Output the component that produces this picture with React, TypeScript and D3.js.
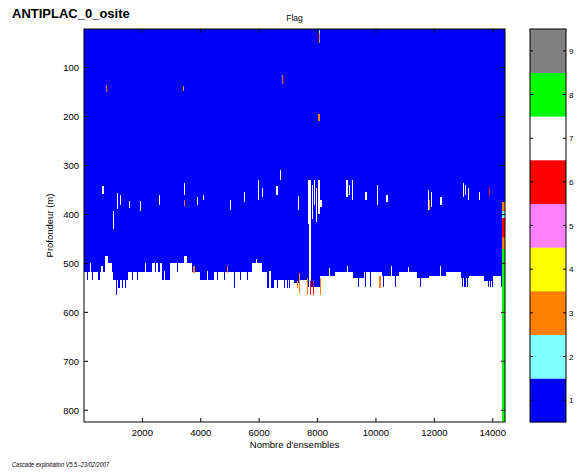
import React from "react";
import * as d3 from "d3";

// ---- data ----
const xDomain: [number, number] = [1, 14420];
const yDomain: [number, number] = [21, 824];
const xTickValues = [2000, 4000, 6000, 8000, 10000, 12000, 14000];
const yTickValues = [100, 200, 300, 400, 500, 600, 700, 800];
const flagLabels = ["1", "2", "3", "4", "5", "6", "7", "8", "9"];
const flagColors = ["#0000ff", "#80ffff", "#ff8000", "#ffff00", "#ff80ff", "#ff0000", "#ffffff", "#00ff00", "#808080"];

// bottom of the flag-1 (good data) block: [start ensemble, bottom depth]
const bottomProfile: [number, number][] = [
  [1, 518], [720, 484], [835, 500], [950, 518], [1000, 533], [1520, 518],
  [2320, 500], [2665, 533], [2950, 500], [3410, 484], [3520, 500], [3750, 518],
  [3980, 533], [4440, 518], [5750, 500], [6100, 518], [6270, 550], [6500, 533],
  [7180, 540], [7400, 533], [7650, 548], [8100, 525], [8600, 518], [9200, 530],
  [9600, 518], [10200, 525], [10800, 518], [11400, 530], [11800, 525], [12400, 518],
  [12900, 530], [13200, 525], [13700, 535], [14000, 525], [14330, 374],
];
const profileEnd = 14420;

// thin columns of good data reaching deeper: [ensemble, depth]
const deepSpikes: [number, number][] = [
  [91, 533], [263, 533], [492, 533], [1086, 564], [1178, 550], [1292, 550], [1406, 550],
  [1635, 533], [1806, 533], [2435, 518], [2550, 518], [3180, 518], [3700, 518],
  [4550, 533], [4780, 533], [5123, 550], [5350, 533], [5580, 533], [6610, 550],
  [6840, 550], [6940, 550], [7010, 550], [9390, 548], [9620, 548], [9800, 548],
  [10250, 548], [10650, 548], [11510, 548], [12950, 548], [13000, 548], [13060, 548],
  [13120, 548], [13840, 548], [13900, 548], [13980, 548], [14300, 548],
];

// thin columns ending shallower: [ensemble, depth]
const shallowNotches: [number, number][] = [
  [200, 500], [600, 505], [2100, 500], [2750, 515], [4200, 515], [5900, 490],
  [6350, 515], [8400, 510], [9000, 505], [10500, 505], [11100, 508], [12200, 505],
];

// missing (blank) cells: [ensemble, top depth, bottom depth]
const blankCells: [number, number, number][] = [
  [628, 341, 358], [1000, 392, 430], [1140, 356, 388], [1220, 360, 380], [1545, 372, 387],
  [1920, 372, 392], [2570, 360, 380], [3430, 335, 360], [3880, 365, 380], [4080, 360, 370],
  [5010, 370, 390], [5490, 355, 375], [5970, 330, 370], [6100, 345, 365], [6590, 342, 360],
  [6720, 309, 330], [7340, 362, 390], [7680, 330, 420], [7720, 330, 555], [7800, 340, 410],
  [7880, 330, 380], [7950, 345, 415], [8030, 330, 400], [8100, 370, 385], [8990, 330, 365],
  [9080, 340, 360], [9190, 330, 370], [9640, 355, 370], [10020, 340, 380], [10360, 360, 375],
  [11770, 350, 390], [11870, 355, 385], [12210, 365, 380], [12970, 335, 365], [13060, 340, 360],
  [13140, 345, 370], [13520, 355, 370],
];

// flagged cells: [ensemble, top depth, bottom depth, flag]
const flaggedCells: [number, number, number, number][] = [
  [755, 135, 150, 3], [3400, 138, 148, 3], [6790, 115, 133, 3], [8030, 195, 208, 3],
  [8050, 23, 30, 2], [8050, 30, 50, 3], [13860, 343, 360, 6], [3420, 370, 382, 3],
  [11800, 370, 390, 3], [7350, 520, 560, 3], [7640, 530, 565, 3], [7750, 535, 565, 6],
  [7850, 535, 565, 6], [8070, 530, 565, 3], [10120, 525, 550, 3], [3750, 505, 520, 3],
  [4890, 505, 520, 3], [7280, 535, 550, 3],
];

// last ensembles: [start ensemble, top depth, bottom depth, flag]
const lastColumn: [number, number, number, number][] = [
  [14330, 374, 392, 3], [14330, 392, 408, 2], [14330, 408, 445, 6],
  [14330, 445, 470, 3], [14330, 470, 824, 8],
];

// ---- layout ----
const W = 576;
const H = 472;
const plot = { left: 84, right: 505, top: 29, bottom: 422 };
const bar = { left: 530, right: 566, top: 29, bottom: 422 };
const font = "'Liberation Sans', Arial, Helvetica, sans-serif";
const cellW = 40; // width in ensembles of a single thin column

export default function App() {
  const x = d3.scaleLinear().domain(xDomain).range([plot.left, plot.right]);
  const y = d3.scaleLinear().domain(yDomain).range([plot.top, plot.bottom]);
  const cb = d3
    .scaleBand<string>()
    .domain([...flagLabels].reverse())
    .range([bar.top, bar.bottom])
    .padding(0);

  const colW = (e: number) => Math.max(1.2, x(e + cellW) - x(e));

  // step-shaped area for the good-data block
  const profilePoints: [number, number][] = [...bottomProfile, [profileEnd, bottomProfile[bottomProfile.length - 1][1]]];
  const area = d3
    .area<[number, number]>()
    .x((d) => x(d[0]))
    .y0(y(yDomain[0]))
    .y1((d) => y(d[1]))
    .curve(d3.curveStepAfter);

  const depthAt = (e: number) => {
    let d = bottomProfile[0][1];
    for (const [s, v] of bottomProfile) if (e >= s) d = v;
    return d;
  };

  return (
    <svg
      width={W}
      height={H}
      style={{ position: "absolute", left: 0, top: 0, background: "#fff" }}
      fontFamily={font}
    >
      <rect x={0} y={0} width={W} height={H} fill="#fff" />

      {/* title and plot caption */}
      <text x={12} y={18} fontSize={13} fontWeight="bold" fill="#000">
        ANTIPLAC_0_osite
      </text>
      <text x={(plot.left + plot.right) / 2} y={21} fontSize={8.5} textAnchor="middle" fill="#000">
        Flag
      </text>

      {/* data cells */}
      <g shapeRendering="crispEdges">
        <path d={area(profilePoints) || ""} fill={flagColors[0]} />
        {deepSpikes.map(([e, d], i) => (
          <rect key={"s" + i} x={x(e)} y={y(depthAt(e)) - 0.5} width={colW(e)} height={y(d) - y(depthAt(e)) + 0.5} fill={flagColors[0]} />
        ))}
        {shallowNotches.map(([e, d], i) => (
          <rect key={"n" + i} x={x(e)} y={y(d)} width={colW(e)} height={Math.max(0, y(depthAt(e)) - y(d))} fill="#fff" />
        ))}
        {blankCells.map(([e, t, b], i) => (
          <rect key={"b" + i} x={x(e)} y={y(t)} width={colW(e)} height={y(b) - y(t)} fill="#fff" />
        ))}
        {flaggedCells.map(([e, t, b, f], i) => (
          <rect key={"f" + i} x={x(e)} y={y(t)} width={colW(e)} height={y(b) - y(t)} fill={flagColors[f - 1]} />
        ))}
        {lastColumn.map(([e, t, b, f], i) => (
          <rect key={"l" + i} x={x(e)} y={y(t)} width={x(profileEnd) - x(e)} height={y(b) - y(t)} fill={flagColors[f - 1]} />
        ))}
      </g>

      {/* plot frame and ticks */}
      <rect x={plot.left} y={plot.top} width={plot.right - plot.left} height={plot.bottom - plot.top} fill="none" stroke="#000" strokeWidth={1} />
      {xTickValues.map((t) => (
        <g key={"xt" + t}>
          <line x1={x(t)} x2={x(t)} y1={plot.bottom} y2={plot.bottom - 4} stroke="#000" />
          <line x1={x(t)} x2={x(t)} y1={plot.top} y2={plot.top + 4} stroke="#000" />
          <text x={x(t)} y={436} fontSize={9.5} textAnchor="middle" fill="#000">
            {t}
          </text>
        </g>
      ))}
      {yTickValues.map((t) => (
        <g key={"yt" + t}>
          <line x1={plot.left} x2={plot.left + 4} y1={y(t)} y2={y(t)} stroke="#000" />
          <line x1={plot.right} x2={plot.right - 4} y1={y(t)} y2={y(t)} stroke="#000" />
          <text x={79} y={y(t) + 3.5} fontSize={9.5} textAnchor="end" fill="#000">
            {t}
          </text>
        </g>
      ))}

      {/* axis titles */}
      <text x={(plot.left + plot.right) / 2} y={448} fontSize={9.5} textAnchor="middle" fill="#000">
        Nombre d'ensembles
      </text>
      <text
        transform={`translate(53, ${(plot.top + plot.bottom) / 2}) rotate(-90)`}
        fontSize={9.5}
        textAnchor="middle"
        fill="#000"
      >
        Profondeur (m)
      </text>

      {/* colour bar */}
      <g>
        {flagLabels.map((lab, i) => (
          <rect key={"c" + lab} x={bar.left} y={cb(lab)!} width={bar.right - bar.left} height={cb.bandwidth() + 0.3} fill={flagColors[i]} />
        ))}
        <rect x={bar.left} y={bar.top} width={bar.right - bar.left} height={bar.bottom - bar.top} fill="none" stroke="#000" strokeWidth={1} />
        {flagLabels.map((lab) => {
          const cy = cb(lab)! + cb.bandwidth() / 2;
          return (
            <g key={"ct" + lab}>
              <line x1={bar.left} x2={bar.left + 3} y1={cy} y2={cy} stroke="#000" />
              <line x1={bar.right} x2={bar.right - 3} y1={cy} y2={cy} stroke="#000" />
              <text x={bar.right + 3} y={cy + 3} fontSize={8} fill="#000">
                {lab}
              </text>
            </g>
          );
        })}
      </g>

      {/* footer */}
      <text x={12} y={467} fontSize={7.5} fontStyle="italic" textLength={97} lengthAdjust="spacingAndGlyphs" fill="#000">
        Cascade exploitation V5.5--23/02/2007
      </text>
    </svg>
  );
}
